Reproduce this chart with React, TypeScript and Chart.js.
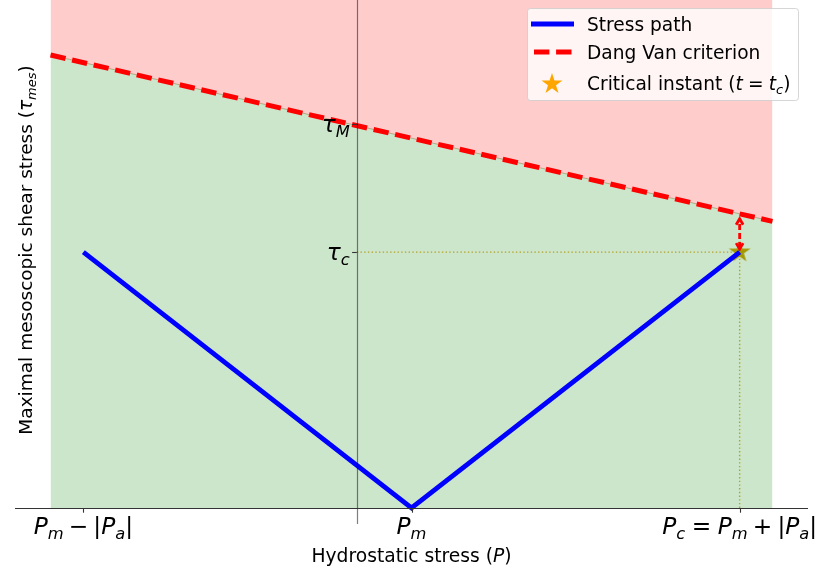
import React, { useEffect, useRef } from 'react';
import { Chart, registerables } from 'chart.js';

Chart.register(...registerables);

// ---- data ----
const xLimits = [-6.25, 8.25];
const yLimits = [-0.125, 3.97];
const regionP = [-5.6, 7.6];
const criterionTau = [3.54, 2.24];
const pathP = [-5, 1, 7];
const pathTau = [2, 0, 2];
const criticalP = [7];
const criticalTau = [2];
const criterionAtCritical = [2.3];
const xTickValues = [-5, 1, 7];
const yTickValues = [3, 2];
const guideHP = [0, 7];
const guideVTau = [0, 2];

type Seg = { t?: string; it?: boolean; sub?: boolean; gap?: number };

const xTickLabels: Seg[][] = [
  [{ t: 'P', it: true }, { t: 'm', it: true, sub: true }, { gap: 0.22 }, { t: '\u2212' }, { gap: 0.22 }, { t: '|' }, { t: 'P', it: true }, { t: 'a', it: true, sub: true }, { t: '|' }],
  [{ t: 'P', it: true }, { t: 'm', it: true, sub: true }],
  [{ t: 'P', it: true }, { t: 'c', it: true, sub: true }, { gap: 0.28 }, { t: '=' }, { gap: 0.28 }, { t: 'P', it: true }, { t: 'm', it: true, sub: true }, { gap: 0.22 }, { t: '+' }, { gap: 0.22 }, { t: '|' }, { t: 'P', it: true }, { t: 'a', it: true, sub: true }, { t: '|' }],
];
const yTickLabels: Seg[][] = [
  [{ t: '\u03c4', it: true }, { t: 'M', it: true, sub: true }],
  [{ t: '\u03c4', it: true }, { t: 'c', it: true, sub: true }],
];
const xAxisTitle: Seg[] = [{ t: 'Hydrostatic stress (' }, { t: 'P', it: true }, { t: ')' }];
const yAxisTitle: Seg[] = [{ t: 'Maximal mesoscopic shear stress (' }, { t: '\u03c4', it: true }, { t: 'mes', it: true, sub: true }, { t: ')' }];
const legendLabels: Seg[][] = [
  [{ t: 'Stress path' }],
  [{ t: 'Dang Van criterion' }],
  [{ t: 'Critical instant (' }, { t: 't', it: true }, { gap: 0.28 }, { t: '=' }, { gap: 0.28 }, { t: 't', it: true }, { t: 'c', it: true, sub: true }, { t: ')' }],
];

const FAMILY = '"DejaVu Sans"';

function segFont(s: Seg, size: number) {
  const sz = s.sub ? size * 0.7 : size;
  return `${s.it ? 'italic ' : ''}${sz}px ${FAMILY}`;
}
function measureMath(ctx: CanvasRenderingContext2D, segs: Seg[], size: number) {
  let w = 0;
  for (const s of segs) {
    if (s.gap) { w += s.gap * size; continue; }
    ctx.font = segFont(s, size);
    w += ctx.measureText(s.t || '').width;
  }
  return w;
}
function drawMath(ctx: CanvasRenderingContext2D, segs: Seg[], x: number, y: number, size: number, align: 'left' | 'center' | 'right', color = '#000') {
  const w = measureMath(ctx, segs, size);
  let cx = align === 'left' ? x : align === 'center' ? x - w / 2 : x - w;
  ctx.save();
  ctx.fillStyle = color;
  ctx.textAlign = 'left';
  ctx.textBaseline = 'alphabetic';
  for (const s of segs) {
    if (s.gap) { cx += s.gap * size; continue; }
    ctx.font = segFont(s, size);
    ctx.fillText(s.t || '', cx, s.sub ? y + size * 0.2 : y);
    cx += ctx.measureText(s.t || '').width;
  }
  ctx.restore();
}
function starPath(ctx: CanvasRenderingContext2D, cx: number, cy: number, r: number) {
  const ri = r * 0.382;
  ctx.beginPath();
  for (let i = 0; i < 10; i++) {
    const rr = i % 2 === 0 ? r : ri;
    const a = -Math.PI / 2 + (i * Math.PI) / 5;
    const px = cx + rr * Math.cos(a);
    const py = cy + rr * Math.sin(a);
    if (i === 0) ctx.moveTo(px, py); else ctx.lineTo(px, py);
  }
  ctx.closePath();
}

const overlayPlugin = {
  id: 'overlay',
  afterDatasetsDraw(chart: any) {
    const ctx: CanvasRenderingContext2D = chart.ctx;
    const xs = chart.scales.x;
    const ys = chart.scales.y;
    const area = chart.chartArea;
    const x0 = xs.getPixelForValue(0);
    const y0 = ys.getPixelForValue(0);

    // arrow between critical point and criterion
    const ax = xs.getPixelForValue(criticalP[0]);
    const ayB = ys.getPixelForValue(criticalTau[0]) - 3;
    const ayT = ys.getPixelForValue(criterionAtCritical[0]) + 5;
    ctx.save();
    ctx.strokeStyle = 'red';
    ctx.lineWidth = 2.8;
    ctx.setLineDash([6, 3]);
    ctx.beginPath();
    ctx.moveTo(ax, ayB - 1);
    ctx.lineTo(ax, ayT + 1);
    ctx.stroke();
    ctx.setLineDash([]);
    ctx.lineJoin = 'miter';
    ctx.beginPath();
    ctx.moveTo(ax - 3.5, ayT + 6);
    ctx.lineTo(ax, ayT);
    ctx.lineTo(ax + 3.5, ayT + 6);
    ctx.stroke();
    ctx.beginPath();
    ctx.moveTo(ax - 3.5, ayB - 6);
    ctx.lineTo(ax, ayB);
    ctx.lineTo(ax + 3.5, ayB - 6);
    ctx.stroke();
    ctx.restore();

    // spines
    ctx.save();
    ctx.strokeStyle = 'rgba(0,0,0,0.5)';
    ctx.lineWidth = 1.2;
    ctx.beginPath();
    ctx.moveTo(Math.round(x0) + 0.5, area.top);
    ctx.lineTo(Math.round(x0) + 0.5, area.bottom);
    ctx.stroke();
    ctx.strokeStyle = '#333';
    ctx.lineWidth = 1.1;
    ctx.beginPath();
    ctx.moveTo(area.left, Math.round(y0) + 0.5);
    ctx.lineTo(area.right, Math.round(y0) + 0.5);
    ctx.stroke();
    // ticks
    ctx.strokeStyle = '#333';
    ctx.lineWidth = 1.1;
    xTickValues.forEach((v) => {
      const px = Math.round(xs.getPixelForValue(v)) + 0.5;
      ctx.beginPath();
      ctx.moveTo(px, y0);
      ctx.lineTo(px, y0 + 4.7);
      ctx.stroke();
    });
    yTickValues.forEach((v) => {
      const py = Math.round(ys.getPixelForValue(v)) + 0.5;
      ctx.beginPath();
      ctx.moveTo(x0 - 4.7, py);
      ctx.lineTo(x0, py);
      ctx.stroke();
    });
    ctx.restore();

    // tick labels
    xTickValues.forEach((v, i) => {
      drawMath(ctx, xTickLabels[i], xs.getPixelForValue(v), 534, 23.3, 'center', '#000');
    });
    yTickValues.forEach((v, i) => {
      drawMath(ctx, yTickLabels[i], x0 - 7, ys.getPixelForValue(v) + 8, 23.3, 'right', '#000');
    });

    // axis titles
    drawMath(ctx, xAxisTitle, (area.left + area.right) / 2, 562, 18.7, 'center');
    ctx.save();
    ctx.translate(32, 250);
    ctx.rotate(-Math.PI / 2);
    drawMath(ctx, yAxisTitle, 0, 0, 18.5, 'center');
    ctx.restore();

    // legend
    ctx.save();
    ctx.fillStyle = 'rgba(255,255,255,0.8)';
    ctx.strokeStyle = 'rgba(204,204,204,0.8)';
    ctx.lineWidth = 1;
    ctx.beginPath();
    (ctx as any).roundRect(527.5, 8.5, 271, 92, 3);
    ctx.fill();
    ctx.stroke();
    ctx.lineWidth = 5;
    ctx.strokeStyle = 'blue';
    ctx.beginPath();
    ctx.moveTo(531, 24);
    ctx.lineTo(574, 24);
    ctx.stroke();
    ctx.strokeStyle = 'red';
    ctx.setLineDash([15.4, 6.7]);
    ctx.lineDashOffset = -3;
    ctx.beginPath();
    ctx.moveTo(531, 52);
    ctx.lineTo(574, 52);
    ctx.stroke();
    ctx.setLineDash([]);
    ctx.fillStyle = '#FFA500';
    starPath(ctx, 552, 84, 11);
    ctx.fill();
    ctx.restore();
    drawMath(ctx, legendLabels[0], 587, 31, 18.6, 'left');
    drawMath(ctx, legendLabels[1], 587, 59, 18.6, 'left');
    drawMath(ctx, legendLabels[2], 587, 90, 18.6, 'left');
  },
};

export default function App() {
  const ref = useRef<HTMLCanvasElement>(null);
  useEffect(() => {
    const canvas = ref.current!;
    const starImg = document.createElement('canvas');
    starImg.width = 26;
    starImg.height = 26;
    const sctx = starImg.getContext('2d')!;
    sctx.fillStyle = '#CC9E00';
    starPath(sctx, 13, 13, 11.5);
    sctx.fill();

    const crit = regionP.map((p, i) => ({ x: p, y: criterionTau[i] }));
    const chart = new Chart(canvas, {
      type: 'line',
      data: {
        datasets: [
          { label: 'Dang Van criterion', data: crit, borderColor: 'red', borderWidth: 5, borderDash: [15.4, 6.7], pointRadius: 0, fill: false },
          { label: 'Stress path', data: pathP.map((p, i) => ({ x: p, y: pathTau[i] })), borderColor: 'blue', borderWidth: 4.8, pointRadius: 0, fill: false, borderJoinStyle: 'miter' },
          { label: 'safe', data: crit, borderColor: 'rgba(0,128,0,0.2)', borderWidth: 1, backgroundColor: 'rgba(0,128,0,0.2)', pointRadius: 0, fill: 'origin' },
          { label: 'fail', data: crit, borderColor: 'rgba(255,0,0,0.2)', borderWidth: 1, backgroundColor: 'rgba(255,0,0,0.2)', pointRadius: 0, fill: 'end' },
          { label: 'Critical instant', data: criticalP.map((p, i) => ({ x: p, y: criticalTau[i] })), showLine: false, pointStyle: starImg as any, pointRadius: 10, borderWidth: 0 },
          { label: 'guideV', data: guideVTau.map((t) => ({ x: criticalP[0], y: t })), borderColor: 'rgba(225,160,20,0.9)', borderWidth: 1.4, borderDash: [1.4, 2.3], pointRadius: 0, fill: false },
          { label: 'guideH', data: guideHP.map((p) => ({ x: p, y: criticalTau[0] })), borderColor: 'rgba(225,160,20,0.9)', borderWidth: 1.4, borderDash: [1.4, 2.3], pointRadius: 0, fill: false },
        ] as any,
      },
      options: {
        animation: false,
        responsive: false,
        maintainAspectRatio: false,
        devicePixelRatio: 1,
        events: [],
        layout: { autoPadding: false, padding: { left: 15, right: 9, top: 0, bottom: 49 } },
        scales: {
          x: { type: 'linear', min: xLimits[0], max: xLimits[1], display: false },
          y: { type: 'linear', min: yLimits[0], max: yLimits[1], display: false },
        },
        plugins: { legend: { display: false }, tooltip: { enabled: false } },
      },
      plugins: [overlayPlugin as any],
    });
    return () => chart.destroy();
  }, []);
  return (
    <div style={{ position: 'absolute', left: 0, top: 0, width: 817, height: 573, background: '#fff' }}>
      <canvas ref={ref} width={817} height={573} style={{ display: 'block', width: 817, height: 573 }} />
    </div>
  );
}
